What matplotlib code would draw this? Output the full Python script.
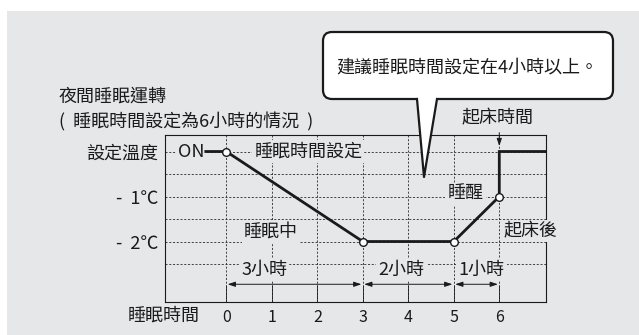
import numpy as np
import matplotlib
matplotlib.use("Agg")
import matplotlib.pyplot as plt
from matplotlib.patches import FancyBboxPatch, Polygon, Rectangle

plt.rcParams['font.family'] = ['Noto Sans CJK TC', 'DejaVu Sans']

# sleep schedule: hours after start vs. offset from the set temperature
hours = [-0.45, 0, 3, 5, 6, 6, 7.5]
offset = [0, 0, -2, -2, -1, 0, 0]
marker_hours = [0, 3, 5, 6]
marker_offset = [0, -2, -2, -1]

hour_ticks = [0, 1, 2, 3, 4, 5, 6]
temp_ticks = [0, -1, -2]
temp_labels = ['設定溫度', '-  1℃', '-  2℃']
half_levels = [-0.5, -1.5, -2.5]

spans = [(0, 3), (3, 5), (5, 6)]
span_labels = ['3小時', '2小時', '1小時']

GRAY = '#e6e7e9'
INK = '#1a1a1a'
W, H = 639, 335

fig = plt.figure(figsize=(W / 100, H / 100), dpi=100)
fig.patch.set_facecolor('white')

# background panel (pixel coords)
bg = fig.add_axes([0, 0, 1, 1], zorder=0)
bg.set_xlim(0, W)
bg.set_ylim(H, 0)
bg.axis('off')
bg.add_patch(Rectangle((7, 11), W - 7, H - 11, color=GRAY, lw=0))

# main chart
ax = fig.add_axes([165 / W, 1 - 302 / H, (545.7 - 165) / W, (302 - 135) / H], zorder=1)
ax.patch.set_visible(False)
ax.set_xlim(-1.347, 7.02)
ax.set_ylim(-3.344, 0.367)

for s in ax.spines.values():
    s.set_linewidth(0.8)
    s.set_color(INK)

ax.set_xticks(hour_ticks)
ax.set_xticklabels([str(h) for h in hour_ticks])
ax.set_yticks(temp_ticks)
ax.set_yticklabels(temp_labels)
ax.set_yticks(half_levels, minor=True)
ax.tick_params(axis='x', direction='in', length=12.5, width=0.6, pad=5,
               labelsize=11.5, colors=INK)
ax.tick_params(axis='y', which='both', length=0, pad=5, labelsize=13, colors=INK)

dash = dict(color='#2a2a2a', lw=0.6, linestyle=(0, (2.5, 2)))
ax.grid(True, axis='x', which='major', **dash)
ax.grid(True, axis='y', which='both', **dash)

ax.text(-0.58, (302 - 316) / (302 - 135), '睡眠時間', transform=ax.get_xaxis_transform(),
        ha='right', va='center', fontsize=13, color=INK)

# temperature curve
ax.plot(hours, offset, color=INK, lw=2, zorder=4, solid_joinstyle='miter')
ax.plot(marker_hours, marker_offset, 'o', ms=5.5, mfc='white', mec=INK, mew=1, zorder=5)

lab = dict(fontsize=13, color=INK, va='center', zorder=3.5, clip_on=False,
           bbox=dict(boxstyle='square,pad=0.12', fc=GRAY, ec='none'))
ax.text(-0.765, 0, 'ON', ha='center', **lab)
ax.text(1.8, 0, '睡眠時間設定', ha='center', **lab)
ax.text(0.98, -1.79, '睡眠中', ha='center', **lab)
ax.text(5.65, -0.95, '睡醒', ha='right', **lab)
ax.text(6.1, -1.77, '起床後', ha='left', **lab)
ax.text(5.97, 0.74, '起床時間', ha='center', **lab)

for (a, b), t, xt in zip(spans, span_labels, [0.83, 3.85, 5.61]):
    ax.annotate('', xy=(b, -2.95), xytext=(a, -2.95),
                arrowprops=dict(arrowstyle='<|-|>,head_length=0.45,head_width=0.15',
                                lw=0.7, color=INK, shrinkA=1, shrinkB=1))
    ax.text(xt, -2.64, t, ha='center', **lab)

ax.annotate('', xy=(6, 0.12), xytext=(6, 0.42), annotation_clip=False,
            arrowprops=dict(arrowstyle='-|>,head_length=0.45,head_width=0.15',
                            lw=0.7, color=INK, shrinkA=0, shrinkB=0))

# headings and callout (pixel coords)
top = fig.add_axes([0, 0, 1, 1], zorder=3)
top.set_xlim(0, W)
top.set_ylim(H, 0)
top.axis('off')
top.patch.set_visible(False)

top.text(59, 97, '夜間睡眠運轉', ha='left', va='center', fontsize=13, color=INK)
top.text(59, 122, '(  睡眠時間設定為6小時的情況  )', ha='left', va='center',
         fontsize=13, color=INK)

top.add_patch(FancyBboxPatch((323, 32), 290, 67, boxstyle='round,pad=0,rounding_size=9',
                             fc='white', ec=INK, lw=1.6))
top.add_patch(Polygon([(417, 96), (424, 177), (437, 96)], closed=True, fc='white', ec='none'))
top.plot([417, 424, 437], [99, 177, 99], color=INK, lw=1.6, solid_joinstyle='round')
top.text(467, 68, '建議睡眠時間設定在4小時以上。', ha='center', va='center',
         fontsize=13, color=INK)

fig.savefig('out.png', dpi=100)
